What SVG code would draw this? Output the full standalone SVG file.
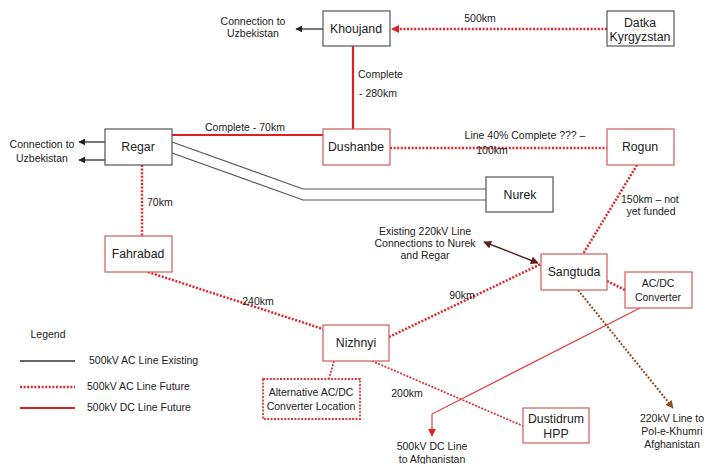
<svg xmlns="http://www.w3.org/2000/svg" width="705" height="464" viewBox="0 0 705 464">
<defs>
<style>
text{font-family:"Liberation Sans",Arial,sans-serif;fill:#222;}
.lbl{font-size:10.5px;}
.nt{font-size:12.3px;text-anchor:middle;}
.c{text-anchor:middle;}
.gbox{fill:#fff;stroke:#555;stroke-width:1.2;}
.rbox{fill:#fff;stroke:#d05a5a;stroke-width:1.2;}
.acf{fill:none;stroke:#e02828;stroke-width:2.5;stroke-dasharray:2 1.6;}
.acft{fill:none;stroke:#d83a3a;stroke-width:1.8;stroke-dasharray:2 1.4;}
.dc{fill:none;stroke:#e02020;stroke-width:2.2;}
.dcthin{fill:none;stroke:#e04040;stroke-width:1.2;}
.ex{fill:none;stroke:#333;stroke-width:1.3;}
.exg{fill:none;stroke:#555;stroke-width:1.2;}
</style>
<marker id="ab" viewBox="0 0 10 10" refX="9" refY="5" markerUnits="userSpaceOnUse" markerWidth="7" markerHeight="7" orient="auto-start-reverse"><path d="M0,0L10,5L0,10z" fill="#222"/></marker>
<marker id="ar" viewBox="0 0 10 10" refX="9" refY="5" markerUnits="userSpaceOnUse" markerWidth="8" markerHeight="8" orient="auto"><path d="M0,0L10,5L0,10z" fill="#e02020"/></marker>
<marker id="abr" viewBox="0 0 10 10" refX="9" refY="5" markerUnits="userSpaceOnUse" markerWidth="8" markerHeight="8" orient="auto-start-reverse"><path d="M0,0L10,5L0,10z" fill="#5a2020"/></marker>
<marker id="abn" viewBox="0 0 10 10" refX="9" refY="5" markerUnits="userSpaceOnUse" markerWidth="8" markerHeight="8" orient="auto"><path d="M0,0L10,5L0,10z" fill="#8a5020"/></marker>
</defs>

<g id="connectors">
<path class="ex" d="M323,29H296" marker-end="url(#ab)"/>
<path class="acf" d="M607,29H392" marker-end="url(#ar)"/>
<path class="dc" d="M353,46V129"/>
<path class="ex" d="M105,142H79" marker-end="url(#ab)"/>
<path class="ex" d="M105,160H79" marker-end="url(#ab)"/>
<path class="dc" d="M172,135H323"/>
<path class="acf" d="M390,148H607"/>
<path class="exg" d="M172,142L303,189H486"/>
<path class="exg" d="M172,153L303,200H486"/>
<path class="acf" d="M142,165V236"/>
<path class="acf" d="M148,272L323,329"/>
<path class="acf" d="M389,337L541,264"/>
<path class="acf" d="M637,165L583,254"/>
<path class="acf" d="M607,281L625,290"/>
<path d="M538,263L484,242" fill="none" stroke="#5a2020" stroke-width="1.4" marker-start="url(#abr)" marker-end="url(#abr)"/>
<path class="acft" d="M334,361L329,379"/>
<path class="acft" d="M372,361L523,426"/>
<path class="dcthin" d="M640,308L432,414V436" marker-end="url(#ar)"/>
<path d="M578,290L673,408" fill="none" stroke="#8a5020" stroke-width="2" stroke-dasharray="2 1.6" marker-end="url(#abn)"/>
</g>

<g id="edge-labels">
<text class="lbl c" x="253" y="25">Connection to</text>
<text class="lbl c" x="253" y="37">Uzbekistan</text>
<text class="lbl c" x="480" y="22">500km</text>
<text class="lbl" x="358" y="78">Complete</text>
<text class="lbl" x="359" y="97">- 280km</text>
<text class="lbl c" x="42" y="148">Connection to</text>
<text class="lbl c" x="42" y="162">Uzbekistan</text>
<text class="lbl c" x="245" y="131">Complete - 70km</text>
<text class="lbl c" x="525" y="139">Line 40% Complete ??? –</text>
<text class="lbl c" x="492" y="154">100km</text>
<text class="lbl" x="147" y="206">70km</text>
<text class="lbl" x="621" y="203">150km – not</text>
<text class="lbl c" x="651" y="215">yet funded</text>
<text class="lbl c" x="425" y="235">Existing 220kV Line</text>
<text class="lbl c" x="425" y="247">Connections to Nurek</text>
<text class="lbl c" x="425" y="259">and Regar</text>
<text class="lbl c" x="258" y="305">240km</text>
<text class="lbl c" x="462" y="299">90km</text>
<text class="lbl c" x="407" y="397">200km</text>
<text class="lbl c" x="432" y="450">500kV DC Line</text>
<text class="lbl c" x="432" y="463">to Afghanistan</text>
<text class="lbl c" x="672" y="422">220kV Line to</text>
<text class="lbl c" x="672" y="435">Pol-e-Khumri</text>
<text class="lbl c" x="672" y="448">Afghanistan</text>
</g>

<g id="khoujand"><rect class="gbox" x="323" y="11" width="67" height="35"/><text class="nt" x="356" y="33">Khoujand</text></g>
<g id="datka"><rect class="gbox" x="607" y="11" width="67" height="35"/><text class="nt" x="640" y="27">Datka</text><text class="nt" x="640" y="41">Kyrgyzstan</text></g>
<g id="regar"><rect class="gbox" x="105" y="129" width="67" height="36"/><text class="nt" x="138" y="151">Regar</text></g>
<g id="dushanbe"><rect class="rbox" x="323" y="129" width="67" height="36"/><text class="nt" x="356" y="151">Dushanbe</text></g>
<g id="rogun"><rect class="rbox" x="607" y="129" width="67" height="36"/><text class="nt" x="640" y="151">Rogun</text></g>
<g id="nurek"><rect class="gbox" x="486" y="177" width="67" height="35"/><text class="nt" x="520" y="199">Nurek</text></g>
<g id="fahrabad"><rect class="rbox" x="105" y="236" width="67" height="36"/><text class="nt" x="138" y="258">Fahrabad</text></g>
<g id="sangtuda"><rect class="rbox" x="541" y="254" width="66" height="36"/><text class="nt" x="574" y="276">Sangtuda</text></g>
<g id="acdc"><rect class="rbox" x="625" y="272" width="67" height="36"/><text class="lbl c" x="658" y="287">AC/DC</text><text class="lbl c" x="658" y="301">Converter</text></g>
<g id="nizhnyi"><rect class="rbox" x="323" y="325" width="66" height="36"/><text class="nt" x="356" y="347">Nizhnyi</text></g>
<g id="alt"><rect x="263" y="379" width="97" height="40" fill="#fff" stroke="#d83a3a" stroke-width="1.8" stroke-dasharray="2 1.4"/><text class="lbl c" x="311" y="396">Alternative AC/DC</text><text class="lbl c" x="311" y="410">Converter Location</text></g>
<g id="dustidrum"><rect class="rbox" x="523" y="408" width="66" height="35"/><text class="nt" x="556" y="423">Dustidrum</text><text class="nt" x="556" y="438">HPP</text></g>

<g id="legend">
<text class="lbl c" x="48" y="338">Legend</text>
<path class="ex" d="M20,361H75"/>
<text class="lbl" x="89" y="364">500kV AC Line Existing</text>
<path class="acf" d="M20,387H75"/>
<text class="lbl" x="87" y="390">500kV AC Line Future</text>
<path class="dc" d="M20,408H75"/>
<text class="lbl" x="87" y="411">500kV DC Line Future</text>
</g>
</svg>
